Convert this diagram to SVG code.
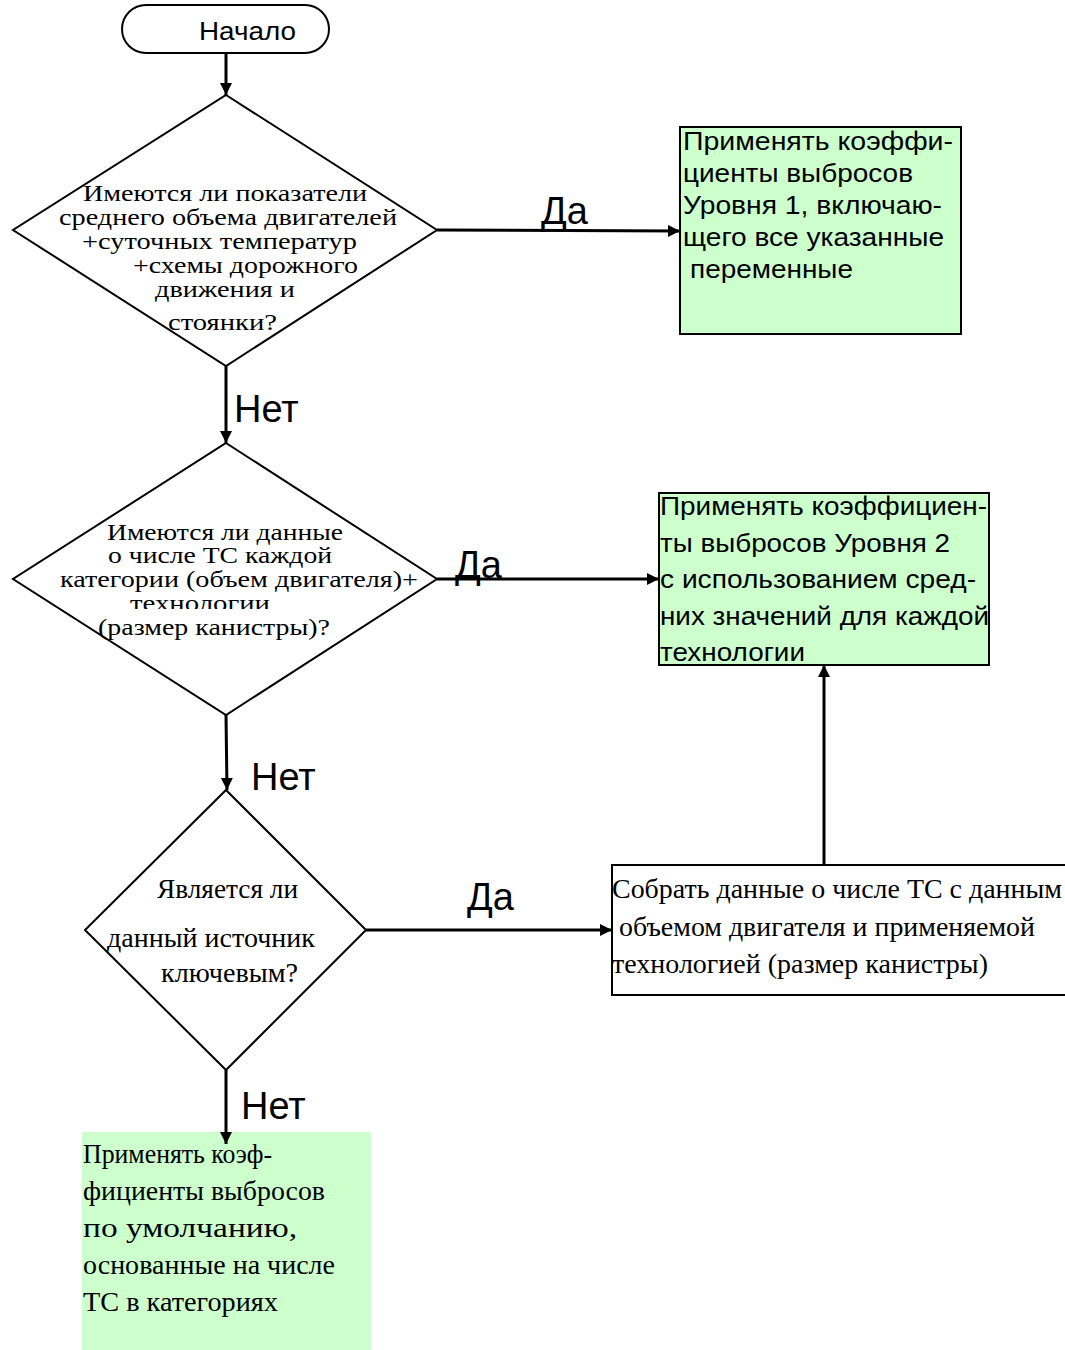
<svg xmlns="http://www.w3.org/2000/svg" width="1065" height="1350" viewBox="0 0 1065 1350">
<style>
.shape{fill:#fff;stroke:#000;stroke-width:2}
.green{fill:#ccffcc;stroke:#000;stroke-width:2}
.tnr{font-family:"Liberation Serif","Times New Roman",serif;fill:#000}
.ar{font-family:"Liberation Sans",Arial,sans-serif;fill:#000}
.lbl{font-family:"Liberation Sans",Arial,sans-serif;font-size:38px;fill:#000}
.conn{stroke:#000;stroke-width:3;fill:none;marker-end:url(#ah)}
</style>
<defs>
<marker id="ah" markerUnits="userSpaceOnUse" markerWidth="14" markerHeight="14" refX="12" refY="6" orient="auto">
<path d="M0,0 L12,6 L0,12 Z" fill="#000"/>
</marker>
<clipPath id="clipTech"><rect x="0" y="590" width="440" height="19"/></clipPath>
</defs>
<rect width="1065" height="1350" fill="#fff"/>

<g id="start">
<rect class="shape" x="122" y="5" width="207" height="48" rx="24" ry="24"/>
<text class="ar" x="199" y="40" font-size="25" textLength="97" lengthAdjust="spacingAndGlyphs">Начало</text>
</g>

<g id="decision1">
<polygon class="shape" points="226,95 437,230 226,366 13,230"/>
<g class="tnr" font-size="24">
<text x="83" y="201" textLength="284" lengthAdjust="spacingAndGlyphs">Имеются ли показатели</text>
<text x="59" y="225" textLength="338" lengthAdjust="spacingAndGlyphs">среднего объема двигателей</text>
<text x="82" y="249" textLength="275" lengthAdjust="spacingAndGlyphs">+суточных температур</text>
<text x="133" y="273" textLength="225" lengthAdjust="spacingAndGlyphs">+схемы дорожного</text>
<text x="155" y="297" textLength="140" lengthAdjust="spacingAndGlyphs">движения и</text>
<text x="168" y="330" textLength="109" lengthAdjust="spacingAndGlyphs">стоянки?</text>
</g>
</g>

<g id="level1">
<rect class="green" x="680" y="127" width="281" height="207"/>
<g class="ar" font-size="25">
<text x="683" y="150" textLength="270" lengthAdjust="spacingAndGlyphs">Применять коэффи-</text>
<text x="683" y="182" textLength="230" lengthAdjust="spacingAndGlyphs">циенты выбросов</text>
<text x="683" y="214" textLength="259" lengthAdjust="spacingAndGlyphs">Уровня 1, включаю-</text>
<text x="683" y="246" textLength="261" lengthAdjust="spacingAndGlyphs">щего все указанные</text>
<text x="690" y="278" textLength="163" lengthAdjust="spacingAndGlyphs">переменные</text>
</g>
</g>

<g id="decision2">
<polygon class="shape" points="226,443 437,579 226,715 13,579"/>
<g class="tnr" font-size="24">
<text x="107" y="540" textLength="236" lengthAdjust="spacingAndGlyphs">Имеются ли данные</text>
<text x="108" y="563" textLength="224" lengthAdjust="spacingAndGlyphs">о числе ТС каждой</text>
<text x="60" y="587" textLength="358" lengthAdjust="spacingAndGlyphs">категории (объем двигателя)+</text>
<text x="130" y="611" textLength="140" lengthAdjust="spacingAndGlyphs" clip-path="url(#clipTech)">технологии</text>
<text x="98" y="635" textLength="232" lengthAdjust="spacingAndGlyphs">(размер канистры)?</text>
</g>
</g>

<g id="level2">
<rect class="green" x="659" y="493" width="330" height="172"/>
<g class="ar" font-size="26">
<text x="660" y="515" textLength="327" lengthAdjust="spacingAndGlyphs">Применять коэффициен-</text>
<text x="660" y="552" textLength="290" lengthAdjust="spacingAndGlyphs">ты выбросов Уровня 2</text>
<text x="660" y="588" textLength="316" lengthAdjust="spacingAndGlyphs">с использованием сред-</text>
<text x="660" y="625" textLength="329" lengthAdjust="spacingAndGlyphs">них значений для каждой</text>
<text x="660" y="661" textLength="145" lengthAdjust="spacingAndGlyphs">технологии</text>
</g>
</g>

<g id="decision3">
<polygon class="shape" points="226,790 366,930 226,1070 85,930"/>
<g class="tnr" font-size="26.5">
<text x="157" y="898" textLength="141" lengthAdjust="spacingAndGlyphs">Является ли</text>
<text x="107" y="947" textLength="208" lengthAdjust="spacingAndGlyphs">данный источник</text>
<text x="161" y="982" textLength="137" lengthAdjust="spacingAndGlyphs">ключевым?</text>
</g>
</g>

<g id="collect">
<rect class="shape" x="612" y="865" width="460" height="130"/>
<g class="tnr" font-size="26.5">
<text x="612" y="898" textLength="450" lengthAdjust="spacingAndGlyphs">Собрать данные о числе ТС с данным</text>
<text x="619" y="936" textLength="416" lengthAdjust="spacingAndGlyphs">объемом двигателя и применяемой</text>
<text x="612" y="973" textLength="376" lengthAdjust="spacingAndGlyphs">технологией (размер канистры)</text>
</g>
</g>

<g id="default">
<rect x="82" y="1132" width="289" height="218" fill="#ccffcc"/>
<g class="tnr" font-size="27">
<text x="83" y="1163" textLength="189" lengthAdjust="spacingAndGlyphs">Применять коэф-</text>
<text x="83" y="1200" textLength="242" lengthAdjust="spacingAndGlyphs">фициенты выбросов</text>
<text x="83" y="1237" textLength="214" lengthAdjust="spacingAndGlyphs">по умолчанию,</text>
<text x="83" y="1274" textLength="252" lengthAdjust="spacingAndGlyphs">основанные на числе</text>
<text x="83" y="1311" textLength="195" lengthAdjust="spacingAndGlyphs">ТС в категориях</text>
</g>
</g>

<g id="connectors">
<line class="conn" x1="226" y1="53" x2="226" y2="95"/>
<line class="conn" x1="437" y1="230" x2="680" y2="231"/>
<line class="conn" x1="226" y1="366" x2="226" y2="443"/>
<line class="conn" x1="437" y1="579" x2="659" y2="579"/>
<line class="conn" x1="226" y1="715" x2="227" y2="790"/>
<line class="conn" x1="366" y1="930" x2="612" y2="930"/>
<line class="conn" x1="824" y1="865" x2="824" y2="665"/>
<line class="conn" x1="226" y1="1070" x2="226" y2="1144"/>
<text class="lbl" x="541" y="224">Да</text>
<text class="lbl" x="234" y="422">Нет</text>
<text class="lbl" x="455" y="578">Да</text>
<text class="lbl" x="251" y="790">Нет</text>
<text class="lbl" x="467" y="910">Да</text>
<text class="lbl" x="241" y="1119">Нет</text>
</g>
</svg>
